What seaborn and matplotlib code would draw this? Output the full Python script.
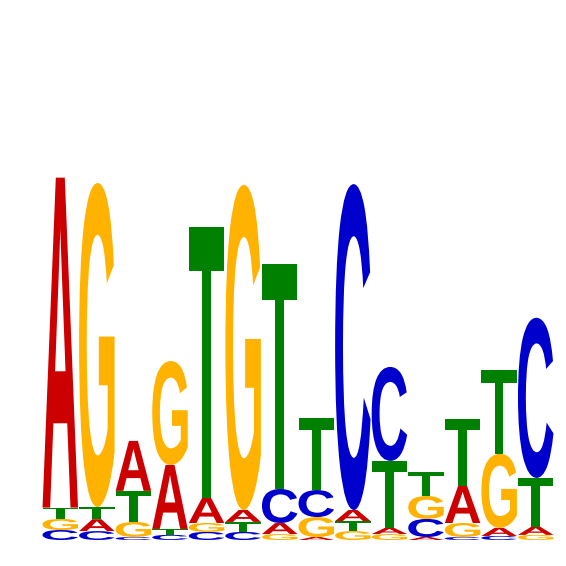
import matplotlib
matplotlib.use("Agg")
import matplotlib.pyplot as plt
import seaborn as sns
import pandas as pd
from matplotlib.textpath import TextPath
from matplotlib.patches import PathPatch
from matplotlib.font_manager import FontProperties
from matplotlib.transforms import Affine2D

# information content (bits) per base at each position
positions = list(range(1, 15))
a_bits = [1.222, 0.044, 0.185, 0.237, 0.093, 0.044, 0.041, 0.011, 0.041, 0.023, 0.011, 0.137, 0.030, 0.030]
c_bits = [0.037, 0.033, 0.011, 0.019, 0.030, 0.030, 0.126, 0.100, 1.207, 0.348, 0.067, 0.011, 0.015, 0.593]
g_bits = [0.041, 1.200, 0.056, 0.385, 0.033, 1.204, 0.022, 0.074, 0.033, 0.022, 0.085, 0.052, 0.274, 0.019]
t_bits = [0.042, 0.045, 0.115, 0.022, 1.004, 0.037, 0.833, 0.267, 0.037, 0.248, 0.089, 0.248, 0.311, 0.181]

df = pd.DataFrame({"A": a_bits, "C": c_bits, "G": g_bits, "T": t_bits}, index=positions)

sns.set_theme(style="white")
colors = dict(zip("ACGT", sns.color_palette(["#CC0000", "#0000CC", "#FFB300", "#008000"])))
fp = FontProperties(family="Liberation Sans", weight="bold")


def letter(ch, x, y, w, h, color):
    tp = TextPath((0, 0), ch, size=1, prop=fp)
    ext = tp.get_extents()
    tr = Affine2D().translate(-ext.x0, -ext.y0).scale(w / ext.width, h / ext.height).translate(x - w / 2, y)
    return PathPatch(tr.transform_path(tp), facecolor=color, edgecolor="none", lw=0)


fig = plt.figure(figsize=(5.66, 5.66), dpi=100)
ax = fig.add_axes([0, 0, 1, 1])

for pos, row in df.iterrows():
    y = 0.0
    for base, h in sorted(row.items(), key=lambda kv: kv[1]):
        ax.add_patch(letter(base, pos, y, 0.97, h, colors[base]))
        y += h

ax.set_xlim(-0.648, 14.828)
ax.set_ylim(-0.0963, 2.0)
ax.axis("off")
fig.savefig("out.png", dpi=100, facecolor="white")
